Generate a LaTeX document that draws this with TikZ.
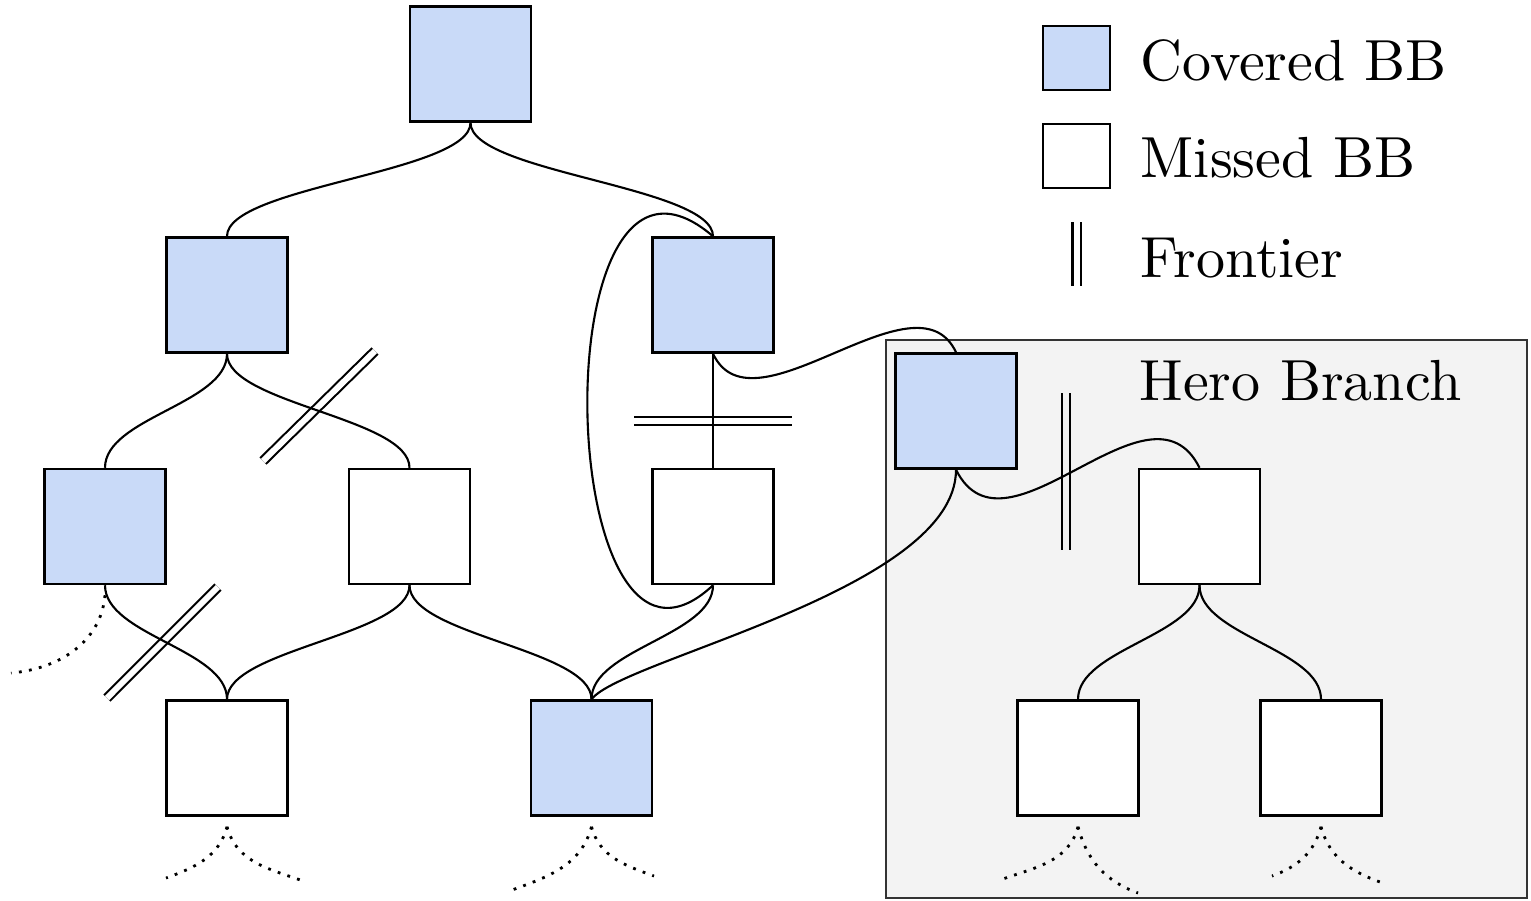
\documentclass[tikz,border=0pt]{standalone}
\usepackage{fontspec}
\newfontfamily\keyfont{lmroman10-regular}[Extension=.otf]
\definecolor{coveredblue}{HTML}{C9DAF8}
\definecolor{herogray}{HTML}{F3F3F3}
\tikzset{
  bb/.style={draw, line width=0.7pt, minimum width=1.21cm, minimum height=1.15cm, inner sep=0pt},
  covered/.style={bb, fill=coveredblue},
  missed/.style={bb, fill=white},
  link/.style={line width=0.6pt},
  frontier/.style={line width=0.6pt, double=white, double distance=1.7pt},
  cont/.style={line width=0.8pt, dash pattern=on 0.8pt off 2.1pt},
  lbl/.style={font=\keyfont\fontsize{16.5}{20}\selectfont, anchor=base west, inner sep=0pt}
}
\begin{document}
\begin{tikzpicture}
\useasboundingbox (0,0) rectangle (15.31,-9.00);

% hero branch area
\draw[fill=herogray, draw=black!80, line width=0.7pt] (8.86,-3.40) rectangle (15.27,-8.98);
\node[lbl] (herolbl) at (11.39,-4.00) {Hero Branch};

% frontier cuts
\draw[frontier] (2.63,-4.61) -- (3.75,-3.51);
\draw[frontier] (1.07,-6.98) -- (2.18,-5.87);
\draw[frontier] (6.34,-4.21) -- (7.92,-4.21);
\draw[frontier, double=herogray] (10.66,-3.93) -- (10.66,-5.50);

% basic blocks
\node[covered] (root) at (4.705,-0.64) {};
\node[covered] (l1a) at (2.27,-2.95) {};
\node[covered] (l1b) at (7.13,-2.95) {};
\node[covered] (l2a) at (1.05,-5.265) {};
\node[missed]  (l2b) at (4.095,-5.265) {};
\node[missed]  (l2c) at (7.13,-5.265) {};
\node[missed]  (l3a) at (2.27,-7.58) {};
\node[covered] (l3b) at (5.915,-7.58) {};
\node[covered] (h1) at (9.56,-4.11) {};
\node[missed]  (h2) at (11.995,-5.265) {};
\node[missed]  (h3) at (10.78,-7.58) {};
\node[missed]  (h4) at (13.21,-7.58) {};

% edges
\draw[link] (root.south) .. controls +(0,-0.5) and +(0,0.5) .. (l1a.north);
\draw[link] (root.south) .. controls +(0,-0.5) and +(0,0.5) .. (l1b.north);
\draw[link] (l1a.south) .. controls +(0,-0.5) and +(0,0.5) .. (l2a.north);
\draw[link] (l1a.south) .. controls +(0,-0.5) and +(0,0.5) .. (l2b.north);
\draw[link] (l1b.south) -- (l2c.north);
\draw[link] (l2a.south) .. controls +(0,-0.5) and +(0,0.5) .. (l3a.north);
\draw[link] (l2b.south) .. controls +(0,-0.5) and +(0,0.5) .. (l3a.north);
\draw[link] (l2b.south) .. controls +(0,-0.5) and +(0,0.5) .. (l3b.north);
\draw[link] (l2c.south) .. controls +(0,-0.5) and +(0,0.5) .. (l3b.north);
\draw[link] (l1b.north) .. controls +(-1.75,1.5) and +(-1.6,-1.5) .. (l2c.south);
\draw[link] (l1b.south) .. controls +(0.4,-0.85) and +(-0.4,0.85) .. (h1.north);
\draw[link] (h1.south) .. controls +(0,-1.2) and +(0.3,0.4) .. (l3b.north);
\draw[link] (h1.south) .. controls +(0.5,-1.0) and +(-0.5,1.0) .. (h2.north);
\draw[link] (h2.south) .. controls +(0,-0.5) and +(0,0.5) .. (h3.north);
\draw[link] (h2.south) .. controls +(0,-0.5) and +(0,0.5) .. (h4.north);

% unexplored continuations
\coordinate (l2a-end) at (0.11,-6.73);
\coordinate (l3a-l) at (1.66,-8.78);
\coordinate (l3a-r) at (3.06,-8.82);
\coordinate (l3b-l) at (5.12,-8.90);
\coordinate (l3b-r) at (6.54,-8.76);
\coordinate (h3-l) at (10.00,-8.80);
\coordinate (h3-r) at (11.38,-8.93);
\coordinate (h4-l) at (12.72,-8.76);
\coordinate (h4-r) at (13.80,-8.82);
\draw[cont] ([yshift=-0.1cm]l2a.south) to[out=-95,in=5] (l2a-end);
\foreach \n in {l3a,l3b,h3,h4}{
  \draw[cont] ([yshift=-0.1cm]\n.south) to[out=-105,in=20] (\n-l);
  \draw[cont] ([yshift=-0.1cm]\n.south) to[out=-75,in=160] (\n-r);
}

% legend
\node[covered, minimum width=0.67cm, minimum height=0.64cm] (keycov) at (10.765,-0.58) {};
\node[missed, minimum width=0.67cm, minimum height=0.64cm] (keymiss) at (10.765,-1.56) {};
\draw[frontier] (10.765,-2.22) -- (10.765,-2.86);
\node[lbl] (covlbl) at (11.40,-0.80) {Covered BB};
\node[lbl] (misslbl) at (11.40,-1.77) {Missed BB};
\node[lbl] (frontlbl) at (11.40,-2.77) {Frontier};
\end{tikzpicture}
\end{document}
